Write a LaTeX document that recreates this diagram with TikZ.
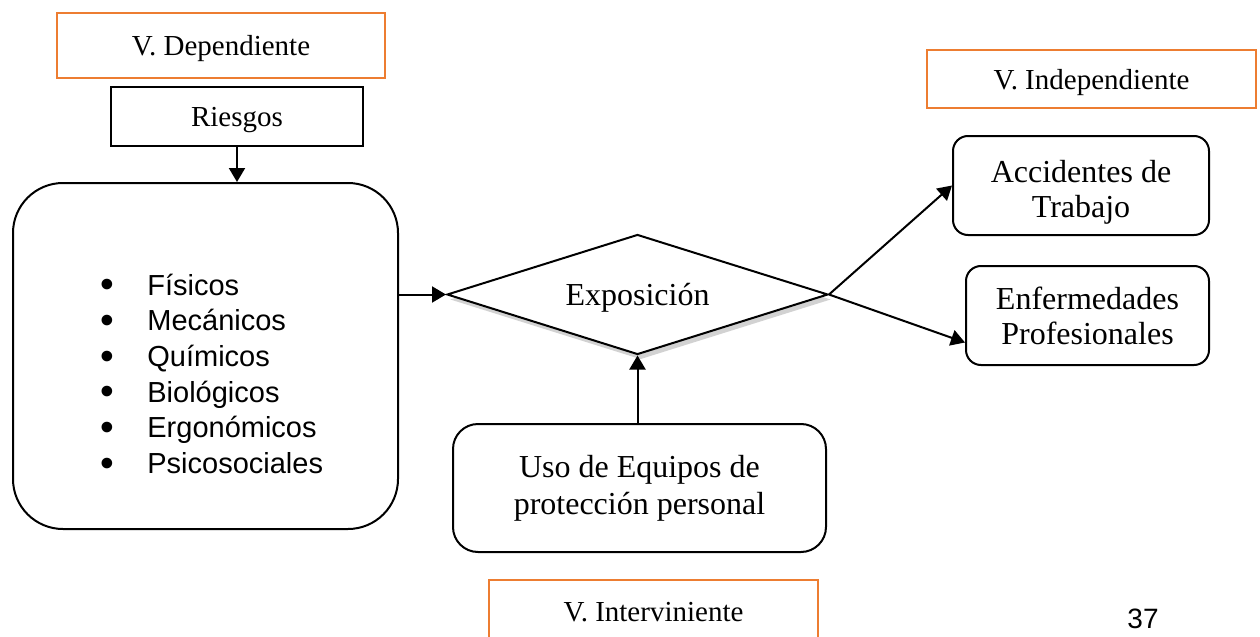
\documentclass[tikz,border=0pt]{standalone}
\usepackage{fontspec}
\usepackage{graphicx}
\setmainfont{Liberation Serif}
\newfontfamily\arialfont{Liberation Sans}
\usetikzlibrary{shapes.geometric,shadows,arrows.meta}
\definecolor{vorange}{RGB}{237,125,49}
\begin{document}
\begin{tikzpicture}[x=0.5pt,y=-0.5pt,
  orangebox/.style={draw=vorange, line width=1pt, inner sep=0pt, text depth=0pt,
    font=\fontsize{14.5}{17}\selectfont},
  blackbox/.style={draw, line width=1pt, inner sep=0pt},
  roundbox/.style={blackbox, rounded corners=7.5pt, align=center,
    font=\fontsize{16}{17.5}\selectfont},
  listitem/.style={anchor=base west, inner sep=0pt,
    font=\arialfont\fontsize{14.5}{17}\selectfont},
  arr/.style={line width=1pt, -{Triangle[length=7pt,width=8pt]}}
]
\useasboundingbox (0,0) rectangle (1260,637);
\clip (0,0) rectangle (1260,637);
\fill[white] (0,0) rectangle (1260,637);

% left column
\node[orangebox, minimum width=164pt, minimum height=32.5pt] (dep) at (221,45.5) {V. Dependiente};
\node[blackbox, minimum width=126pt, minimum height=29.5pt, text depth=0pt,
  font=\fontsize{14.5}{17}\selectfont] (ries) at (237,116.5) {Riesgos};
\node[blackbox, rounded corners=25pt, minimum width=192.5pt, minimum height=173pt] (big) at (205.5,356) {};
\foreach \t [count=\i] in {Físicos,Mecánicos,Químicos,Biológicos,Ergonómicos,Psicosociales}
  \node[listitem] (item\i) at (100,{295+35.7*(\i-1)})
    {\makebox[23.5pt][l]{\raisebox{-1.4pt}{\scalebox{1.35}{\textbullet}}}\t};

% centre
\node[draw, diamond, line width=1pt, aspect=3.175, minimum width=190.5pt, minimum height=60pt,
  inner sep=0pt, text depth=0pt, fill=white,
  drop shadow={shadow xshift=1.5pt, shadow yshift=-2.5pt, opacity=0.35, fill=gray},
  font=\fontsize{16}{17}\selectfont] (dia) at (637.5,294.5) {Exposición};
\node[roundbox, rounded corners=12.5pt, minimum width=186.5pt, minimum height=64pt,
  font=\fontsize{16}{18.5}\selectfont] (uso) at (639.5,488) {Uso de Equipos de\\protección personal};
\node[orangebox, minimum width=164.5pt, minimum height=32.5pt] (interv) at (653.5,612) {V. Interviniente};

% right column
\node[orangebox, minimum width=164.5pt, minimum height=29pt] (indep) at (1091.5,79) {V. Independiente};
\node[roundbox, minimum width=128pt, minimum height=49.5pt] (acc) at (1081,185.5)
  {\rule{0pt}{17.9pt}Accidentes de\\Trabajo};
\node[roundbox, minimum width=121.5pt, minimum height=49.5pt] (enf) at (1087.5,315.5)
  {Enfermedades\\Profesionales};

\node[anchor=base, inner sep=0pt, font=\arialfont\fontsize{14}{16}\selectfont] (pnum) at (1143,628) {37};

% connectors
\draw[arr] (ries.south) -- (ries.south |- big.north);
\draw[arr] (big.east |- dia.west) -- (dia.west);
\draw[arr] (dia.south |- uso.north) -- (dia.south);
\draw[arr] (dia.east) -- (acc.west);
\draw[arr] (dia.east) -- ([yshift=-13.5pt]enf.west);
\end{tikzpicture}
\end{document}
